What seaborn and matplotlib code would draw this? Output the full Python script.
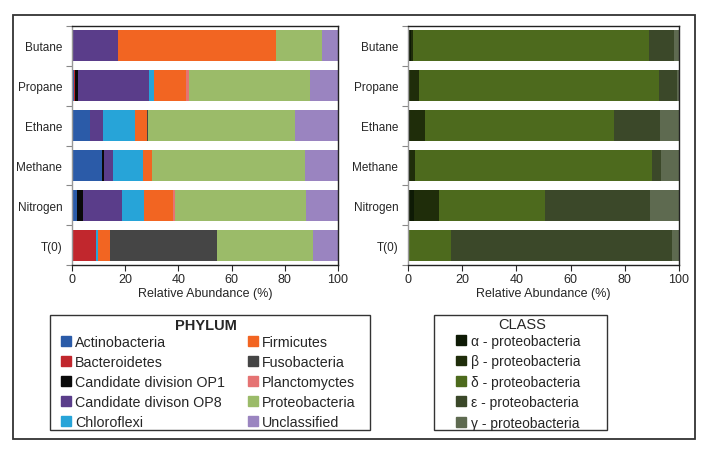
import matplotlib
matplotlib.use('Agg')
import matplotlib.pyplot as plt
import matplotlib.patches as mpatches
import numpy as np
import pandas as pd
import seaborn as sns

sns.set_style('white')
plt.rcParams['font.family'] = ['Liberation Sans', 'DejaVu Sans']

samples = ['Butane', 'Propane', 'Ethane', 'Methane', 'Nitrogen', 'T(0)']

# phylum level (% of reads), one list per taxon, order as samples
phyla = ['Actinobacteria', 'Bacteroidetes', 'Candidate division OP1', 'Candidate divison OP8',
         'Chloroflexi', 'Firmicutes', 'Fusobacteria', 'Planctomyctes', 'Proteobacteria', 'Unclassified']
actino = [0.0, 0.6, 6.9, 11.3, 1.9, 0.0]
bactero = [0.0, 0.6, 0.0, 0.0, 0.0, 9.1]
op1 = [0.0, 1.0, 0.0, 0.8, 2.1, 0.0]
op8 = [17.2, 26.6, 4.6, 3.4, 14.9, 0.0]
chloro = [0.0, 2.1, 12.2, 11.3, 8.1, 0.6]
firmi = [59.6, 12.0, 4.5, 3.4, 10.9, 4.4]
fuso = [0.0, 0.0, 0.5, 0.0, 0.0, 40.4]
plancto = [0.0, 1.0, 0.0, 0.0, 0.9, 0.0]
proteo = [17.2, 45.7, 55.3, 57.4, 49.2, 36.0]
unclass = [6.0, 10.4, 16.0, 12.4, 11.9, 9.5]
phylum_colors = ['#2b5ba8', '#c1272d', '#0a0a0a', '#5a3d8a', '#27a4d8',
                 '#f26522', '#454545', '#e57373', '#9bbb69', '#9a84c0']

# class level within proteobacteria
classes = ['α - proteobacteria', 'β - proteobacteria', 'δ - proteobacteria',
           'ε - proteobacteria', 'γ - proteobacteria']
alpha = [1.0, 0.5, 0.9, 0.6, 2.1, 0.0]
beta = [1.0, 3.6, 5.3, 2.1, 9.3, 0.0]
delta = [86.9, 88.5, 69.9, 87.2, 39.0, 16.0]
epsilon = [9.4, 6.7, 16.8, 3.6, 38.8, 81.4]
gamma = [1.7, 0.7, 7.1, 6.5, 10.8, 2.6]
class_colors = ['#0e1a05', '#1f2d0a', '#4d6a1d', '#3b4829', '#5e6a50']

phylum_df = pd.DataFrame(dict(zip(phyla, [actino, bactero, op1, op8, chloro, firmi,
                                          fuso, plancto, proteo, unclass])), index=samples)
class_df = pd.DataFrame(dict(zip(classes, [alpha, beta, delta, epsilon, gamma])), index=samples)

W, H = 707, 452
fig = plt.figure(figsize=(W / 100, H / 100), dpi=100)
ax1 = fig.add_axes([72 / W, 1 - 266 / H, 266 / W, 239 / H])
ax2 = fig.add_axes([408 / W, 1 - 266 / H, 271 / W, 239 / H])


def stacked(ax, df, colors):
    cum = df.cumsum(axis=1)
    # draw from the outermost layer in, so each shorter bar sits on top
    for col, c in zip(reversed(df.columns), reversed(colors)):
        sns.barplot(x=cum[col].values, y=df.index, color=c, orient='h',
                    width=0.78, saturation=1, ax=ax, linewidth=0)
    ax.set_xlim(0, 100)
    ax.set_ylim(5.5, -0.5)
    ax.set_xticks([0, 20, 40, 60, 80, 100])
    ax.set_xlabel('Relative Abundance (%)', fontsize=9, labelpad=1)
    ax.set_ylabel('')
    ax.tick_params(axis='y', length=0, labelsize=8.5, pad=7)
    ax.tick_params(axis='x', length=4, width=0.8, direction='out', labelsize=9, pad=2, bottom=True)
    ax.set_yticks(np.arange(-0.5, 6.0, 1.0), minor=True)
    ax.tick_params(axis='y', which='minor', length=4, width=0.8, color='#888888', left=True)
    for s in ax.spines.values():
        s.set_color('#222222')
        s.set_linewidth(1.0)
    ax.spines['left'].set_color('#999999')


stacked(ax1, phylum_df, phylum_colors)
stacked(ax2, class_df, class_colors)

ph_handles = [mpatches.Patch(color=c, label=l) for c, l in zip(phylum_colors, phyla)]
cl_handles = [mpatches.Patch(color=c, label=l) for c, l in zip(class_colors, classes)]

fig.legend(handles=ph_handles, loc='upper left',
           bbox_to_anchor=(61 / W, 1 - 344 / H, 295 / W, 8 / H), mode='expand',
           ncol=2, fontsize=10.3, frameon=False,
           handlelength=0.7, handleheight=0.7, handletextpad=0.3,
           labelspacing=0.42, borderpad=0, borderaxespad=0)
fig.legend(handles=cl_handles, loc='upper left', bbox_to_anchor=(456 / W, 1 - 335 / H),
           ncol=1, fontsize=10, frameon=False,
           handlelength=0.7, handleheight=0.7, handletextpad=0.4,
           labelspacing=0.46, borderpad=0, borderaxespad=0)
fig.text(206 / W, 1 - 326 / H, 'PHYLUM', ha='center', va='center', fontsize=10.5, fontweight='bold')
fig.text(522 / W, 1 - 325 / H, 'CLASS', ha='center', va='center', fontsize=10.5)

# legend boxes and the outer frame, in pixel terms of the figure
for x0, y0, x1, y1, lw in [(50, 316, 370, 431, 1.0), (434, 316, 607, 431, 1.0),
                           (13, 16, 695, 440, 1.3)]:
    fig.patches.append(mpatches.Rectangle((x0 / W, 1 - y1 / H), (x1 - x0) / W, (y1 - y0) / H,
                                          transform=fig.transFigure, fill=False,
                                          edgecolor='#333333', linewidth=lw))

fig.savefig('out.png', dpi=100)
